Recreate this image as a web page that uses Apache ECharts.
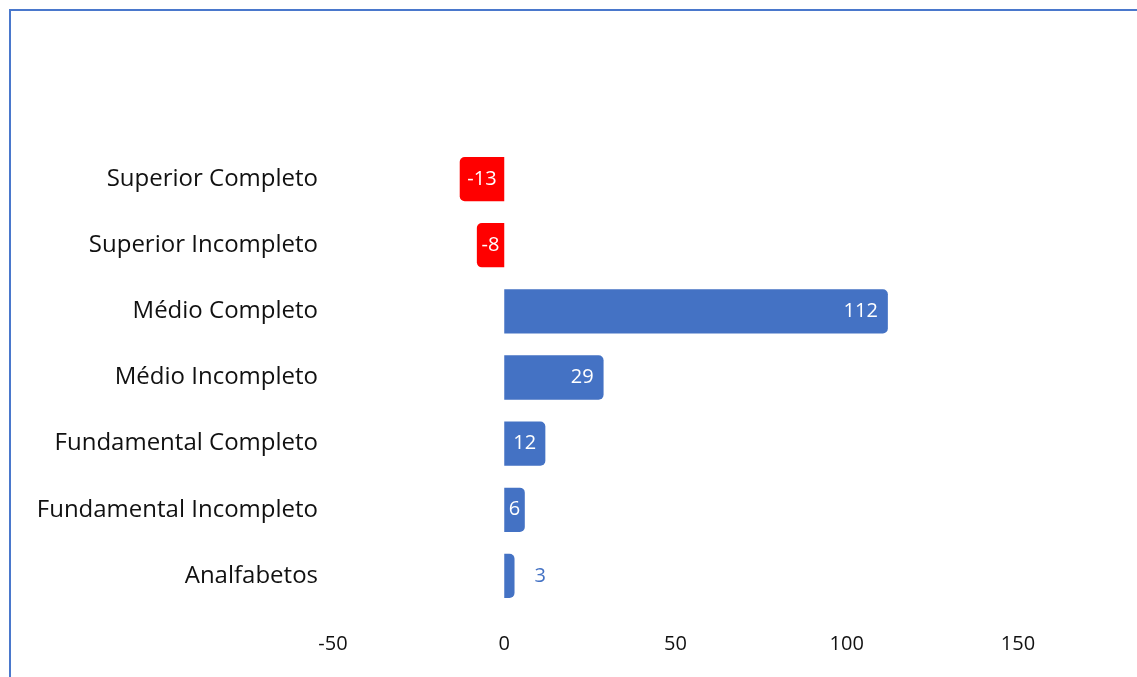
<!DOCTYPE html>
<html>
<head>
<meta charset="utf-8">
<script src="https://cdn.jsdelivr.net/npm/echarts@6/dist/echarts.min.js"></script>
<style>html,body{margin:0;padding:0;background:#fff}#c{width:1137px;height:677px}</style>
</head>
<body>
<div id="c"></div>
<script>
const categories = ["Analfabetos","Fundamental Incompleto","Fundamental Completo","Médio Incompleto","Médio Completo","Superior Incompleto","Superior Completo"];
const values = [3, 6, 12, 29, 112, -8, -13];
const xTicks = {min: -50, max: 150, interval: 50};

const BLUE = '#4472C4', RED = '#FF0000';
const font = '"Open Sans", Lato, sans-serif';

const data = values.map((v) => {
  const neg = v < 0;
  const a = Math.abs(v);
  let label;
  if (a < 5) label = {position: 'right', color: BLUE, distance: 20};
  else if (neg || a < 20) label = {position: 'inside', color: '#fff'};
  else label = {position: 'insideRight', color: '#fff', distance: 10};
  return {
    value: v,
    itemStyle: {
      color: neg ? RED : BLUE,
      borderRadius: neg ? [5, 0, 0, 5] : [0, 5, 5, 0]
    },
    label: label
  };
});

const chart = echarts.init(document.getElementById('c'), null, {renderer: 'canvas'});
chart.setOption({
  animation: false,
  backgroundColor: '#fff',
  graphic: [{
    type: 'rect', shape: {x: 10, y: 10, width: 1200, height: 800},
    style: {fill: 'none', stroke: '#4A78CC', lineWidth: 2}, silent: true
  }],
  grid: {left: 333, right: 119, top: 146, bottom: 68, containLabel: false},
  xAxis: {
    type: 'value', min: xTicks.min, max: xTicks.max, interval: xTicks.interval,
    axisLine: {show: false}, axisTick: {show: false}, splitLine: {show: false},
    axisLabel: {fontFamily: font, fontSize: 20, color: '#111', margin: 25}
  },
  yAxis: {
    type: 'category', data: categories,
    axisLine: {show: false}, axisTick: {show: false}, splitLine: {show: false},
    axisLabel: {fontFamily: font, fontSize: 24, color: '#111', margin: 15, padding: [3, 0, 0, 0]}
  },
  series: [{
    type: 'bar', data: data, barCategoryGap: '33%',
    label: {show: true, fontFamily: font, fontSize: 20}
  }]
});
</script>
</body>
</html>
